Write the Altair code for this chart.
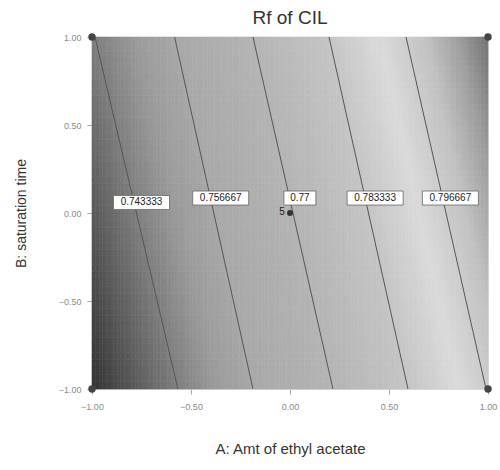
import altair as alt
import numpy as np
import pandas as pd

# Contour levels and where each contour line crosses the top (B=1) and bottom (B=-1) edges
levels = [0.743333, 0.756667, 0.77, 0.783333, 0.796667]
level_labels = ["0.743333", "0.756667", "0.77", "0.783333", "0.796667"]
a_at_top = [-0.985, -0.583, -0.187, 0.197, 0.586]
a_at_bottom = [-0.566, -0.187, 0.217, 0.596, 0.990]

# Contour label positions (A, B)
label_a = [-0.75, -0.35, 0.05, 0.43, 0.81]
label_b = [0.06, 0.085, 0.085, 0.085, 0.085]

# Design points
corner_a = [-1, -1, 1, 1]
corner_b = [-1, 1, -1, 1]
center_a = [0.0]
center_b = [0.0]
center_count = ["5"]

# Grey shading stops (response value -> grey)
shade_values = [0.727, 0.736, 0.743, 0.75, 0.757, 0.77, 0.783, 0.792, 0.800, 0.806, 0.812]
shade_colors = ["#2a2a2a", "#5a5a5a", "#7d7d7d", "#9a9a9a", "#a8a8a8", "#b4b4b4",
                "#c4c4c4", "#dadada", "#c2c2c2", "#9c9c9c", "#666666"]

ticks = [-1.0, -0.5, 0.0, 0.5, 1.0]

# ---- background field from the read contour positions ----
nx, ny = 110, 48
xe = np.linspace(-1, 1, nx + 1)
ye = np.linspace(-1, 1, ny + 1)
lv = np.array(levels)
top = np.array(a_at_top)
bot = np.array(a_at_bottom)
rows = []
for j in range(ny):
    bc = (ye[j] + ye[j + 1]) / 2
    t = (bc + 1) / 2
    pos = bot + (top - bot) * t
    slope = (lv[-1] - lv[0]) / (pos[-1] - pos[0])
    for i in range(nx):
        ac = (xe[i] + xe[i + 1]) / 2
        if ac < pos[0]:
            v = lv[0] + (ac - pos[0]) * slope
        elif ac > pos[-1]:
            v = lv[-1] + (ac - pos[-1]) * slope
        else:
            v = float(np.interp(ac, pos, lv))
        rows.append({"a": xe[i], "a2": xe[i + 1], "b": ye[j], "b2": ye[j + 1], "v": v})
field = pd.DataFrame(rows)

lines = pd.DataFrame(
    [{"lvl": lab, "a": at, "b": 1.0, "o": 0} for lab, at in zip(level_labels, a_at_top)]
    + [{"lvl": lab, "a": ab, "b": -1.0, "o": 1} for lab, ab in zip(level_labels, a_at_bottom)]
)

labels = pd.DataFrame({"a": label_a, "b": label_b, "t": level_labels})
half_w = (labels["t"].str.len() * 6.0 + 8) / 2 / 198
labels["x1"] = labels["a"] - half_w
labels["x2"] = labels["a"] + half_w
labels["y1"] = labels["b"] - 7 / 176
labels["y2"] = labels["b"] + 7 / 176

corners = pd.DataFrame({"a": corner_a, "b": corner_b})
center = pd.DataFrame({"a": center_a, "b": center_b, "n": center_count})

xscale = alt.Scale(domain=[-1, 1], nice=False, zero=False)
yscale = alt.Scale(domain=[-1, 1], nice=False, zero=False)
shade = alt.Scale(domain=shade_values, range=shade_colors, interpolate="rgb")

xaxis = alt.Axis(values=ticks, format=".2f", title="A: Amt of ethyl acetate",
                 labelFontSize=9, labelColor="#8a8a8a", tickColor="#aaaaaa", tickSize=5,
                 labelPadding=8, labelFlush=False, titleFontSize=15, titleFontWeight="normal",
                 titleColor="#333333", titlePadding=30, domain=False, grid=False)
yaxis = alt.Axis(values=ticks, format=".2f", title="B: saturation time",
                 labelFontSize=9, labelColor="#8a8a8a", tickColor="#aaaaaa", tickSize=5,
                 labelPadding=6, labelFlush=False, titleFontSize=14, titleFontWeight="normal",
                 titleColor="#333333", titlePadding=30, domain=False, grid=False)

bg = alt.Chart(field).mark_rect(strokeWidth=0.6).encode(
    x=alt.X("a:Q", scale=xscale, axis=xaxis),
    x2="a2:Q",
    y=alt.Y("b:Q", scale=yscale, axis=yaxis),
    y2="b2:Q",
    color=alt.Color("v:Q", scale=shade, legend=None),
    stroke=alt.Stroke("v:Q", scale=shade, legend=None),
)

contours = alt.Chart(lines).mark_line(color="#555555", strokeWidth=1, clip=True).encode(
    x=alt.X("a:Q", scale=xscale),
    y=alt.Y("b:Q", scale=yscale),
    detail="lvl:N",
    order="o:Q",
)

boxes = alt.Chart(labels).mark_rect(fill="white", stroke="#666666", strokeWidth=0.8).encode(
    x="x1:Q", x2="x2:Q", y="y1:Q", y2="y2:Q"
)
texts = alt.Chart(labels).mark_text(fontSize=10, color="#222222", font="Liberation Sans").encode(
    x="a:Q", y="b:Q", text="t:N"
)

pts = alt.Chart(corners).mark_circle(size=55, color="#444444", opacity=1).encode(
    x="a:Q", y="b:Q"
)
cpt = alt.Chart(center).mark_circle(size=35, color="#333333", opacity=1).encode(
    x="a:Q", y="b:Q"
)
ctext = alt.Chart(center).mark_text(fontSize=10, color="#222222", dx=-8, dy=-1).encode(
    x="a:Q", y="b:Q", text="n:N"
)

chart = alt.layer(bg, contours, boxes, texts, pts, cpt, ctext).properties(
    width=396, height=352,
    title=alt.TitleParams("Rf of CIL", fontSize=19, fontWeight="normal", color="#333333",
                          font="Liberation Sans", offset=5),
    autosize=alt.AutoSizeParams(type="none"),
    padding={"left": 92, "top": 37, "right": 12, "bottom": 81},
).configure_view(stroke="#bbbbbb", strokeWidth=1).configure(
    font="Liberation Sans", background="white"
)

chart.save("out.html", embed_options={"renderer": "svg", "actions": False})
